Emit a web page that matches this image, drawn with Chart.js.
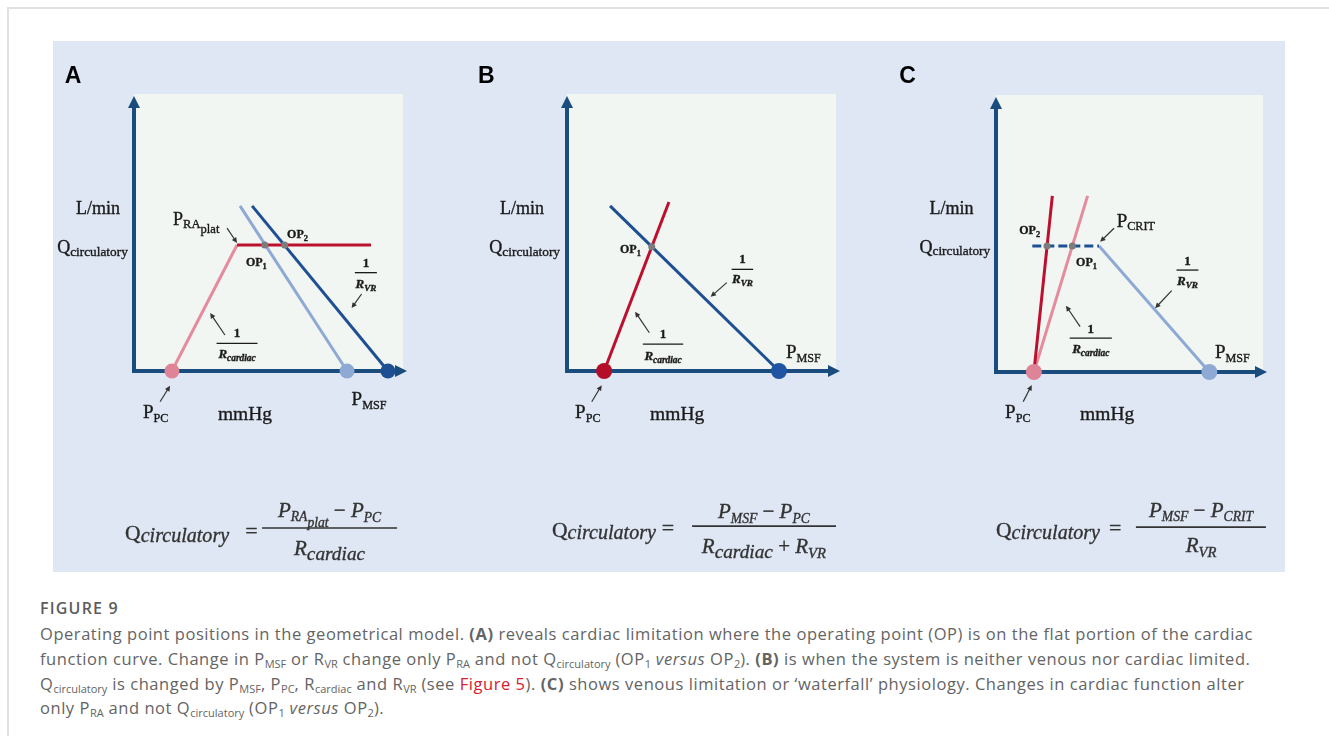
<!DOCTYPE html>
<html>
<head>
<meta charset="utf-8">
<script src="https://cdn.jsdelivr.net/npm/chart.js@4.4.1/dist/chart.umd.min.js"></script>
<style>
  html, body { margin: 0; padding: 0; background: #fff; width: 1329px; height: 736px; overflow: hidden; }
  #page { position: relative; width: 1329px; height: 736px; }
  #frame { position: absolute; left: 7px; top: 7px; width: 1340px; height: 740px;
           border-left: 2px solid #e2e2e2; border-top: 2px solid #e2e2e2; }
  #panel { position: absolute; left: 53px; top: 41px; width: 1232px; height: 531px;
           background: #dfe7f5; overflow: hidden; }
  #panel canvas { position: absolute; top: 0; }
  .cap { position: absolute; left: 40px; font-family: "Open Sans", sans-serif; font-size: 16.5px;
         letter-spacing: 0.55px; line-height: 20px; color: #646464; white-space: nowrap; }
  .cap sub { font-size: 11px; letter-spacing: 0; vertical-align: -3px; line-height: 0; }
  .fig { font-size: 16px; font-weight: 600; letter-spacing: 1.2px; color: #5c5c5c; }
  .red { color: #d5212e; }
</style>
</head>
<body>
<div id="page">
  <div id="frame"></div>
  <div id="panel">
    <canvas id="chartA" width="417" height="531" style="left:0px"></canvas>
    <canvas id="chartB" width="430" height="531" style="left:417px"></canvas>
    <canvas id="chartC" width="405" height="531" style="left:827px"></canvas>
  </div>
  <div class="cap fig" style="top:598px">FIGURE 9</div>
  <div class="cap" style="top:624px">Operating point positions in the geometrical model. <b>(A)</b> reveals cardiac limitation where the operating point (OP) is on the flat portion of the cardiac</div>
  <div class="cap" style="top:649px">function curve. Change in P<sub>MSF</sub> or R<sub>VR</sub> change only P<sub>RA</sub> and not Q<sub>circulatory</sub> (OP<sub>1</sub> <i>versus</i> OP<sub>2</sub>). <b>(B)</b> is when the system is neither venous nor cardiac limited.</div>
  <div class="cap" style="top:674px">Q<sub>circulatory</sub> is changed by P<sub>MSF</sub>, P<sub>PC</sub>, R<sub>cardiac</sub> and R<sub>VR</sub> (see <span class="red">Figure 5</span>). <b>(C)</b> shows venous limitation or ‘waterfall’ physiology. Changes in cardiac function alter</div>
  <div class="cap" style="top:698px">only P<sub>RA</sub> and not Q<sub>circulatory</sub> (OP<sub>1</sub> <i>versus</i> OP<sub>2</sub>).</div>
</div>

<script>
// axis range (arbitrary units, pressure on x, flow on y)
const X_RANGE = [0, 100];
const Y_RANGE = [0, 100];

// Panel A - cardiac limitation
const aCardiacRise    = [[14.1, 0], [38.3, 45.5]];
const aCardiacPlateau = [[38.3, 45.5], [88.1, 45.5]];
const aVenous1        = [[39.4, 59.6], [79.2, 0]];
const aVenous2        = [[43.9, 59.6], [94.4, 0]];
const aOperating      = [[48.6, 45.5], [56.0, 45.5]];
const aPpc            = [[14.1, 0]];
const aPmsf1          = [[79.2, 0]];
const aPmsf2          = [[94.4, 0]];

// Panel B - neither venous nor cardiac limited
const bCardiac   = [[13.8, 0], [37.9, 61.0]];
const bVenous    = [[16.0, 59.6], [78.8, 0]];
const bOperating = [[31.5, 44.9]];
const bPpc       = [[13.8, 0]];
const bPmsf      = [[78.8, 0]];

// Panel C - venous limitation (waterfall)
const cCardiac1    = [[14.2, 0], [34.3, 63.6]];
const cCardiac2    = [[14.2, 0], [21.1, 63.6]];
const cVenousFlat  = [[13.6, 45.5], [38.6, 45.5]];
const cVenousSlope = [[38.6, 45.5], [79.9, 0]];
const cOperating   = [[28.6, 45.5], [19.1, 45.5]];
const cPpc         = [[14.2, 0]];
const cPmsf        = [[79.9, 0]];

const DARK_RED = '#bd102f', PINK = '#e58c9c', DARK_BLUE = '#1f4f93', LIGHT_BLUE = '#8eaad4';
const AXIS = '#1a4d7e', OP_GREY = '#7c7c7c', PLOT_BG = '#f2f6f3', INK = '#1a1a1a', ARROW = '#333';
const SERIF = '"Liberation Serif", "DejaVu Serif", serif';

const pts = a => a.map(([x, y]) => ({ x, y }));
function line(data, color, dash) {
  return { data: pts(data), showLine: true, borderColor: color, borderWidth: 3, pointRadius: 0,
           borderDash: dash || [], clip: false, order: 3 };
}
function dots(data, color, r, order) {
  return { data: pts(data), showLine: false, backgroundColor: color, borderWidth: 0,
           pointRadius: r, clip: false, order: order || 1 };
}

// rich text: segs = [text, sizeFactor, baselineShift(em), style('i','b')]
function drawRich(ctx, segs, x, y, align, size, baseStyle) {
  const parts = segs.map(([t, k = 1, sh = 0, st = '']) => {
    st = st + (baseStyle || '');
    const font = (st.includes('i') ? 'italic ' : '') + (st.includes('b') ? 'bold ' : '') + (size * k) + 'px ' + SERIF;
    ctx.font = font;
    return { t, font, w: ctx.measureText(t).width, dy: sh * size };
  });
  const total = parts.reduce((s, p) => s + p.w, 0);
  let cx = align === 'center' ? x - total / 2 : align === 'right' ? x - total : x;
  ctx.textAlign = 'left';
  ctx.textBaseline = 'alphabetic';
  ctx.lineWidth = 0.35;
  ctx.strokeStyle = ctx.fillStyle;
  parts.forEach(p => { ctx.font = p.font; ctx.fillText(p.t, cx, y + p.dy); ctx.strokeText(p.t, cx, y + p.dy); cx += p.w; });
}

function arrow(ctx, x1, y1, x2, y2) {
  const ang = Math.atan2(y2 - y1, x2 - x1), h = 6;
  ctx.strokeStyle = ARROW; ctx.fillStyle = ARROW; ctx.lineWidth = 1.2;
  ctx.beginPath(); ctx.moveTo(x1, y1); ctx.lineTo(x2 - Math.cos(ang) * h * 0.8, y2 - Math.sin(ang) * h * 0.8); ctx.stroke();
  ctx.beginPath();
  ctx.moveTo(x2, y2);
  ctx.lineTo(x2 - h * Math.cos(ang - 0.45), y2 - h * Math.sin(ang - 0.45));
  ctx.lineTo(x2 - h * Math.cos(ang + 0.45), y2 - h * Math.sin(ang + 0.45));
  ctx.closePath(); ctx.fill();
}

const Q_SEGS = [['Q'], ['circulatory', 0.74, 0.14]];
const OP = n => [['OP'], [n, 0.7, 0.25]];
const P_SUB = s => [['P'], [s, 0.64, 0.2]];
const R_VR = [['R', 1, 0, 'ib'], ['VR', 0.7, 0.22, 'ib']];
const R_CARD = [['R', 1, 0, 'ib'], ['cardiac', 0.72, 0.22, 'ib']];

const annA = {
  letter: [-25.7, 104.0],
  texts: [
    { at: [-13.4, 56.7], align: 'center', size: 18, segs: [['L/min']] },
    { at: [-2.3, 42.6], align: 'right', size: 18, segs: Q_SEGS },
    { at: [14.5, 52.7], size: 18, segs: [['P'], ['RA', 0.7, 0.18], ['plat', 0.7, 0.42]] },
    { at: [56.9, 48.0], size: 12, style: 'b', segs: OP('2') },
    { at: [41.6, 38.0], size: 12, style: 'b', segs: OP('1') },
    { at: [3.3, -17.0], size: 19, segs: P_SUB('PC') },
    { at: [31.2, -17.7], size: 19.5, segs: [['mmHg']] },
    { at: [80.9, -12.3], size: 19, segs: P_SUB('MSF') }
  ],
  arrows: [[34.6, 51.6, 38.3, 46.2], [84.6, 27.8, 80.9, 22.7], [33.8, 13.0, 28.3, 20.9], [9.7, -11.1, 13.4, -5.3]],
  fractions: [
    { cx: 86.2, num: 37.7, bar: 35.5, den: 30.0, half: 4.1, segs: R_VR },
    { cx: 38.3, num: 12.4, bar: 10.0, den: 4.7, half: 7.6, segs: R_CARD }
  ],
  eq: { q: [-3.3, -61.0], eqx: 43.7, bar: [47.6, 97.8, -56.7], cx: 72.7, numY: -52.7, denY: -66.4,
        num: [['P', 1, 0, 'i'], ['RA', 0.65, 0.2, 'i'], ['plat', 0.65, 0.48, 'i'], [' − '], ['P', 1, 0, 'i'], ['PC', 0.65, 0.22, 'i']],
        den: [['R', 1, 0, 'i'], ['cardiac', 0.92, 0.22, 'i']] }
};

const annB = {
  letter: [-33.1, 104.0],
  texts: [
    { at: [-16.7, 56.7], align: 'center', size: 18, segs: [['L/min']] },
    { at: [-2.6, 42.6], align: 'right', size: 18, segs: Q_SEGS },
    { at: [19.7, 42.6], size: 12, style: 'b', segs: OP('1') },
    { at: [81.4, 4.6], size: 19, segs: P_SUB('MSF') },
    { at: [3.0, -17.1], size: 19, segs: P_SUB('PC') },
    { at: [30.9, -17.7], size: 19.5, segs: [['mmHg']] }
  ],
  arrows: [[9.2, -11.1, 12.9, -5.1], [59.4, 31.9, 53.4, 26.8], [30.6, 13.8, 25.3, 21.4]],
  fractions: [
    { cx: 65.2, num: 39.1, bar: 36.7, den: 31.7, half: 4.0, segs: R_VR },
    { cx: 35.7, num: 12.0, bar: 9.7, den: 4.0, half: 7.5, segs: R_CARD }
  ],
  eq: { q: [-5.6, -59.9], eqx: 37.5, bar: [46.5, 100, -56.0], cx: 73.2, numY: -53.1, denY: -65.7,
        num: [['P', 1, 0, 'i'], ['MSF', 0.65, 0.22, 'i'], [' − '], ['P', 1, 0, 'i'], ['PC', 0.65, 0.22, 'i']],
        den: [['R', 1, 0, 'i'], ['cardiac', 0.92, 0.22, 'i'], [' + '], ['R', 1, 0, 'i'], ['VR', 0.7, 0.22, 'i']] }
};

const annC = {
  letter: [-36.2, 104.3],
  texts: [
    { at: [-16.7, 57.0], align: 'center', size: 18, segs: [['L/min']] },
    { at: [-2.2, 43.0], align: 'right', size: 18, segs: Q_SEGS },
    { at: [8.7, 49.8], size: 12, style: 'b', segs: OP('2') },
    { at: [30.0, 38.4], size: 12, style: 'b', segs: OP('1') },
    { at: [45.2, 52.5], size: 19, segs: P_SUB('CRIT') },
    { at: [82.0, 4.9], size: 19, segs: P_SUB('MSF') },
    { at: [3.4, -16.7], size: 19, segs: P_SUB('PC') },
    { at: [31.5, -17.3], size: 19.5, segs: [['mmHg']] }
  ],
  arrows: [[44.2, 51.9, 39.0, 47.0], [65.8, 29.4, 59.6, 23.0], [31.5, 16.4, 26.2, 23.9], [10.2, -10.7, 13.4, -4.7]],
  fractions: [
    { cx: 71.7, num: 38.6, bar: 36.8, den: 31.4, half: 4.1, segs: R_VR },
    { cx: 35.5, num: 14.2, bar: 12.2, den: 6.8, half: 7.9, segs: R_CARD }
  ],
  eq: { q: [0, -59.6], eqx: 44.6, bar: [52.4, 101.1, -56.0], cx: 76.8, numY: -52.3, denY: -65.0,
        num: [['P', 1, 0, 'i'], ['MSF', 0.65, 0.22, 'i'], [' − '], ['P', 1, 0, 'i'], ['CRIT', 0.65, 0.22, 'i']],
        den: [['R', 1, 0, 'i'], ['VR', 0.7, 0.22, 'i']] }
};

function decor(letter, ann) {
  return {
    id: 'decor',
    beforeDatasetsDraw(chart) {
      const { ctx, chartArea: a } = chart;
      ctx.save();
      ctx.fillStyle = PLOT_BG;
      ctx.fillRect(a.left, a.top, a.right - a.left, a.bottom - a.top);
      ctx.strokeStyle = AXIS; ctx.lineWidth = 4;
      ctx.beginPath();
      ctx.moveTo(a.left, a.top + 12); ctx.lineTo(a.left, a.bottom); ctx.lineTo(a.right - 6, a.bottom);
      ctx.stroke();
      ctx.fillStyle = AXIS;
      ctx.beginPath();
      ctx.moveTo(a.left, a.top + 2); ctx.lineTo(a.left - 6, a.top + 14); ctx.lineTo(a.left + 6, a.top + 14);
      ctx.closePath(); ctx.fill();
      ctx.beginPath();
      ctx.moveTo(a.right + 4, a.bottom); ctx.lineTo(a.right - 8, a.bottom - 6); ctx.lineTo(a.right - 8, a.bottom + 6);
      ctx.closePath(); ctx.fill();
      ctx.restore();
    },
    afterDatasetsDraw(chart) {
      const { ctx } = chart;
      const X = v => chart.scales.x.getPixelForValue(v);
      const Y = v => chart.scales.y.getPixelForValue(v);
      ctx.save();
      ctx.fillStyle = '#000';
      ctx.font = 'bold 23px "Liberation Sans", Arial, sans-serif';
      ctx.textAlign = 'left'; ctx.textBaseline = 'alphabetic';
      ctx.fillText(letter, X(ann.letter[0]), Y(ann.letter[1]));

      ctx.fillStyle = INK;
      ann.texts.forEach(t => { ctx.fillStyle = INK; drawRich(ctx, t.segs, X(t.at[0]), Y(t.at[1]), t.align || 'left', t.size, t.style); });
      ann.arrows.forEach(([x1, y1, x2, y2]) => arrow(ctx, X(x1), Y(y1), X(x2), Y(y2)));

      ann.fractions.forEach(f => {
        ctx.fillStyle = INK;
        drawRich(ctx, [['1']], X(f.cx), Y(f.num), 'center', 13, 'b');
        drawRich(ctx, f.segs, X(f.cx), Y(f.den), 'center', 13);
        ctx.strokeStyle = INK; ctx.lineWidth = 1.3;
        ctx.beginPath(); ctx.moveTo(X(f.cx - f.half), Y(f.bar)); ctx.lineTo(X(f.cx + f.half), Y(f.bar)); ctx.stroke();
      });

      const e = ann.eq;
      ctx.fillStyle = '#333';
      drawRich(ctx, [['Q', 1.05], ['circulatory', 0.98, 0.1, 'i']], X(e.q[0]), Y(e.q[1]), 'left', 20.5);
      ctx.fillStyle = '#333';
      drawRich(ctx, [['=']], X(e.eqx), Y(e.q[1]) - 2, 'center', 22);
      ctx.fillStyle = '#333';
      drawRich(ctx, e.num, X(e.cx), Y(e.numY), 'center', 21);
      ctx.fillStyle = '#333';
      drawRich(ctx, e.den, X(e.cx), Y(e.denY), 'center', 21);
      ctx.strokeStyle = '#333'; ctx.lineWidth = 1.6;
      ctx.beginPath(); ctx.moveTo(X(e.bar[0]), Y(e.bar[2])); ctx.lineTo(X(e.bar[1]), Y(e.bar[2])); ctx.stroke();
      ctx.restore();
    }
  };
}

function makeChart(id, pad, datasets, letter, ann) {
  return new Chart(document.getElementById(id).getContext('2d'), {
    type: 'scatter',
    data: { datasets },
    options: {
      responsive: false, animation: false, devicePixelRatio: 1, events: [],
      layout: { padding: pad },
      plugins: { legend: { display: false }, tooltip: { enabled: false } },
      scales: {
        x: { type: 'linear', min: X_RANGE[0], max: X_RANGE[1], display: false },
        y: { type: 'linear', min: Y_RANGE[0], max: Y_RANGE[1], display: false }
      }
    },
    plugins: [decor(letter, ann)]
  });
}

makeChart('chartA', { left: 81, right: 67, top: 53, bottom: 201 }, [
  dots(aOperating, OP_GREY, 3.5, 0),
  dots(aPpc, '#df8497', 7.5),
  dots(aPmsf1, LIGHT_BLUE, 7.5),
  dots(aPmsf2, DARK_BLUE, 7.5),
  line(aCardiacPlateau, DARK_RED),
  line(aCardiacRise, PINK),
  line(aVenous1, LIGHT_BLUE),
  line(aVenous2, DARK_BLUE)
], 'A', annA);

makeChart('chartB', { left: 97, right: 64, top: 53, bottom: 201 }, [
  dots(bOperating, OP_GREY, 3.5, 0),
  dots(bPpc, '#b30d28', 8),
  dots(bPmsf, '#1f55a2', 8),
  line(bCardiac, DARK_RED),
  line(bVenous, DARK_BLUE)
], 'B', annB);

makeChart('chartC', { left: 116, right: 22, top: 54, bottom: 200 }, [
  dots(cOperating, OP_GREY, 3.5, 0),
  dots(cPpc, '#df8497', 8),
  dots(cPmsf, LIGHT_BLUE, 8),
  line(cCardiac2, DARK_RED),
  line(cCardiac1, PINK),
  line(cVenousFlat, DARK_BLUE, [9, 4]),
  line(cVenousSlope, LIGHT_BLUE)
], 'C', annC);
</script>
</body>
</html>
